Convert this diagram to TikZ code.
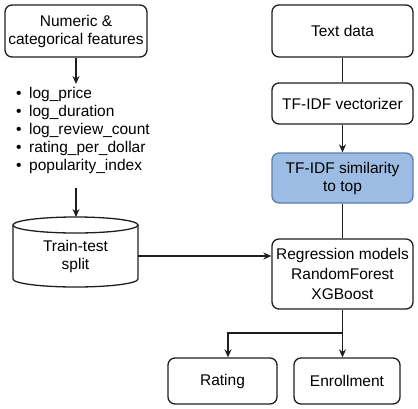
\documentclass[tikz,border=0pt]{standalone}
\usepackage{fontspec}
\setmainfont{Liberation Sans}
\usetikzlibrary{arrows.meta}
\definecolor{simfill}{HTML}{9CBCE4}
\definecolor{simdraw}{HTML}{5B7FAE}
\definecolor{ln}{HTML}{1E1E1E}
\begin{document}
\begin{tikzpicture}[x=1pt,y=-1pt,
  box/.style={draw=ln, line width=1.3pt, rounded corners=7pt, align=center,
    font=\fontsize{15.5}{18}\selectfont, inner sep=0pt, text=black},
  conn/.style={draw=ln, line width=1.4pt},
  arr/.style={conn, -{Stealth[length=8pt,width=7pt]}},
  feat/.style={anchor=base west, font=\fontsize{15.5}{18}\selectfont, inner sep=0pt}]
\useasboundingbox (0,0) rectangle (418,408);
% left column
\node[box, minimum width=142pt, minimum height=52pt] (num) at (76,31) {Numeric \&\\categorical features};
\node[feat] (f1) at (16,98)  {\makebox[13pt][l]{•}log\_price};
\node[feat] (f2) at (16,116) {\makebox[13pt][l]{•}log\_duration};
\node[feat] (f3) at (16,134) {\makebox[13pt][l]{•}log\_review\_count};
\node[feat] (f4) at (16,152) {\makebox[13pt][l]{•}rating\_per\_dollar};
\node[feat] (f5) at (16,170) {\makebox[13pt][l]{•}popularity\_index};
\coordinate (lt) at (76,84);
\coordinate (lb) at (76,188);
\coordinate (cyltop) at (76,217);
\draw[arr] (num.south) -- (lt);
\draw[arr] (lb) -- (cyltop);
% cylinder
\draw[conn, line width=1.3pt] (13,225) -- (13,279) arc[start angle=180, end angle=360, x radius=62.5pt, y radius=8pt] -- (138,225);
\draw[conn, line width=1.3pt] (75.5,225) ellipse [x radius=62.5pt, y radius=8pt];
\node[font=\fontsize{15.5}{18}\selectfont, align=center, minimum width=125pt, minimum height=60pt, inner sep=0pt] (split) at (75.5,256) {Train-test\\split};
% right column
\node[box, minimum width=141pt, minimum height=52pt] (text) at (342.5,31) {Text data};
\node[box, minimum width=141pt, minimum height=41pt] (vec) at (342.5,103.5) {TF-IDF vectorizer};
\node[box, draw=simdraw, fill=simfill, minimum width=141pt, minimum height=50pt] (sim) at (342.5,178) {TF-IDF similarity\\to top};
\node[box, font=\fontsize{15.5}{20}\selectfont, minimum width=141pt, minimum height=70pt] (reg) at (342.5,274) {Regression models\\RandomForest\\XGBoost};
\node[box, minimum width=109pt, minimum height=46pt] (rating) at (222.5,381) {Rating};
\node[box, minimum width=106pt, minimum height=46pt] (enroll) at (347,381) {Enrollment};
% connectors
\draw[conn] (text.south) -- (vec.north);
\draw[arr] (vec.south) -- (sim.north);
\draw[conn] (sim.south) -- (reg.north);
\draw[arr] (split.east) -- (split.east -| reg.west);
\coordinate (j) at (342.5,333);
\draw[conn] (reg.south) -- (j);
\draw[arr] (j) -| ([xshift=5.5pt]rating.north);
\draw[arr] (j) -- (j |- enroll.north);
\end{tikzpicture}
\end{document}
